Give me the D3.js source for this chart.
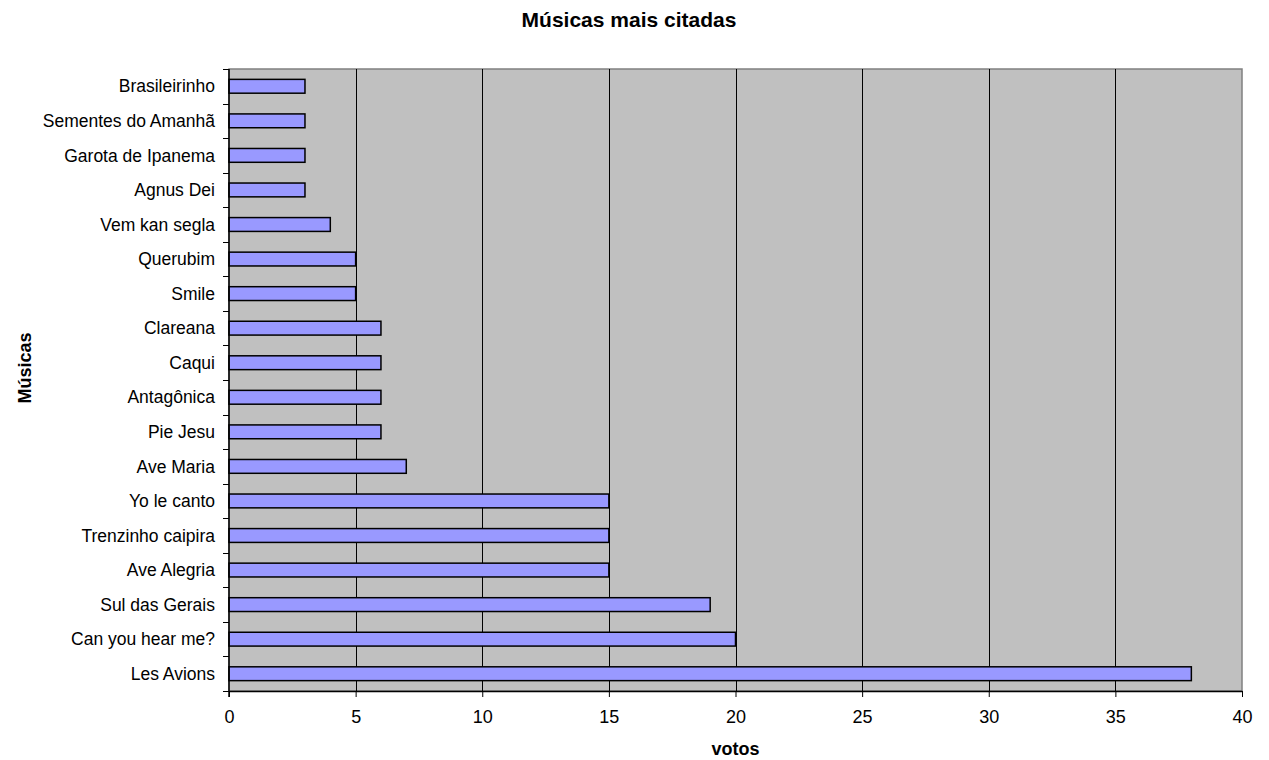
<!DOCTYPE html>
<html>
<head>
<meta charset="utf-8">
<script src="https://cdn.jsdelivr.net/npm/d3@7"></script>
<style>
  html, body { margin: 0; padding: 0; background: #fff; }
  svg text { font-family: "Liberation Sans", Arial, sans-serif; fill: #000; }
</style>
</head>
<body>
<svg id="chart" width="1269" height="760"></svg>
<script>
// Songs listed top to bottom
const songs = [
  "Brasileirinho", "Sementes do Amanhã", "Garota de Ipanema", "Agnus Dei",
  "Vem kan segla", "Querubim", "Smile", "Clareana", "Caqui", "Antagônica",
  "Pie Jesu", "Ave Maria", "Yo le canto", "Trenzinho caipira", "Ave Alegria",
  "Sul das Gerais", "Can you hear me?", "Les Avions"
];
const votes = [3, 3, 3, 3, 4, 5, 5, 6, 6, 6, 6, 7, 15, 15, 15, 19, 20, 38];
const xTicks = [0, 5, 10, 15, 20, 25, 30, 35, 40];

const title = "Músicas mais citadas";
const xTitle = "votos";
const yTitle = "Músicas";

const svg = d3.select("#chart");
const plot = { left: 229, top: 69, right: 1242, bottom: 691 };

const x = d3.scaleLinear().domain([0, 40]).range([plot.left, plot.right]);
const y = d3.scaleBand().domain(songs).range([plot.top, plot.bottom]).paddingInner(0.6).paddingOuter(0.3);
const yEdges = d3.scaleBand().domain(songs).range([plot.top, plot.bottom]);

// plot background
svg.append("rect")
  .attr("x", plot.left).attr("y", plot.top)
  .attr("width", plot.right - plot.left).attr("height", plot.bottom - plot.top)
  .attr("fill", "#C0C0C0").attr("stroke", "#808080").attr("stroke-width", 1.5);

// vertical gridlines
svg.append("g").selectAll("line")
  .data(xTicks.filter(t => t > 0 && t < 40))
  .join("line")
  .attr("x1", d => Math.round(x(d)) + 0.5).attr("x2", d => Math.round(x(d)) + 0.5)
  .attr("y1", plot.top).attr("y2", plot.bottom)
  .attr("stroke", "#000").attr("stroke-width", 1);

// bars
svg.append("g").selectAll("rect")
  .data(songs.map((s, i) => ({ s, v: votes[i] })))
  .join("rect")
  .attr("x", x(0))
  .attr("y", d => y(d.s))
  .attr("width", d => x(d.v) - x(0))
  .attr("height", y.bandwidth())
  .attr("fill", "#9999FF")
  .attr("stroke", "#000").attr("stroke-width", 1.5);

// x axis
const xAxis = svg.append("g")
  .attr("transform", `translate(0,${plot.bottom})`)
  .call(d3.axisBottom(x).tickValues(xTicks).tickSize(6).tickPadding(13).tickSizeOuter(0));
xAxis.select(".domain").attr("stroke", "#000").attr("stroke-width", 1.5);
xAxis.selectAll(".tick line").attr("stroke", "#000");
xAxis.selectAll("text").style("font-size", "18px").attr("fill", "#000");

// y axis with ticks at category boundaries
const yAxisG = svg.append("g").attr("transform", `translate(${plot.left},0)`);
yAxisG.append("line")
  .attr("x1", 0).attr("x2", 0).attr("y1", plot.top).attr("y2", plot.bottom + 6)
  .attr("stroke", "#000").attr("stroke-width", 1.5);
const edges = songs.map(s => yEdges(s)).concat([plot.bottom]);
yAxisG.selectAll("line.tk").data(edges).join("line").attr("class", "tk")
  .attr("x1", -6).attr("x2", 0)
  .attr("y1", d => Math.round(d) + 0.5).attr("y2", d => Math.round(d) + 0.5)
  .attr("stroke", "#000");
yAxisG.selectAll("text").data(songs).join("text")
  .attr("x", -14)
  .attr("y", d => yEdges(d) + yEdges.bandwidth() / 2)
  .attr("dy", "0.35em")
  .attr("text-anchor", "end")
  .style("font-size", "17.5px")
  .text(d => d);

// titles
svg.append("text")
  .attr("x", 629).attr("y", 27)
  .attr("text-anchor", "middle")
  .style("font-size", "21px").style("font-weight", "bold")
  .text(title);
svg.append("text")
  .attr("x", (plot.left + plot.right) / 2).attr("y", 755)
  .attr("text-anchor", "middle")
  .style("font-size", "18px").style("font-weight", "bold")
  .text(xTitle);
svg.append("text")
  .attr("transform", `translate(31,368) rotate(-90)`)
  .attr("text-anchor", "middle")
  .style("font-size", "18px").style("font-weight", "bold")
  .text(yTitle);
</script>
</body>
</html>
